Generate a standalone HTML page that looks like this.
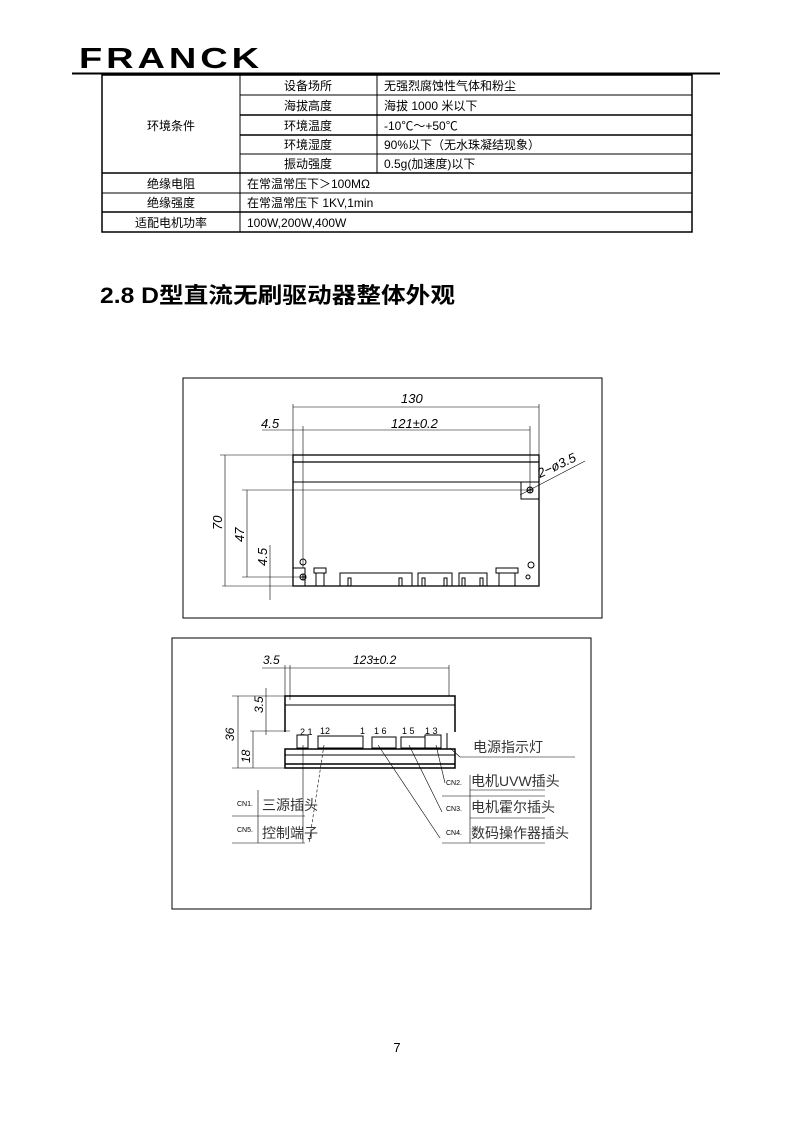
<!DOCTYPE html>
<html><head><meta charset="utf-8"><style>
html,body{margin:0;padding:0;background:#fff}
svg{display:block}
text{font-family:"Liberation Sans","Noto Sans CJK SC",sans-serif}
</style></head><body>
<svg width="794" height="1123" viewBox="0 0 794 1123" xmlns="http://www.w3.org/2000/svg">
<text x="79" y="68" font-family="Liberation Sans, sans-serif" font-weight="900" font-size="29" letter-spacing="3" textLength="184" lengthAdjust="spacingAndGlyphs" fill="#000">FRANCK</text>
<line x1="72" y1="73.5" x2="720" y2="73.5" stroke="#000" stroke-width="2"/>
<g stroke="#000" fill="none">
<rect x="102" y="75" width="590" height="157" stroke-width="1.5"/>
<line x1="240" y1="75" x2="240" y2="232"/>
<line x1="377" y1="75" x2="377" y2="173"/>
<line x1="240" y1="95" x2="692" y2="95"/>
<line x1="240" y1="115" x2="692" y2="115" stroke-width="1.5"/>
<line x1="240" y1="135" x2="692" y2="135" stroke-width="1.5"/>
<line x1="240" y1="154" x2="692" y2="154"/>
<line x1="102" y1="173" x2="692" y2="173" stroke-width="1.5"/>
<line x1="102" y1="193" x2="692" y2="193"/>
<line x1="102" y1="212" x2="692" y2="212" stroke-width="1.5"/>
</g>
<g font-size="12" fill="#000">
<text x="171" y="130" text-anchor="middle">环境条件</text>
<text x="308" y="90" text-anchor="middle">设备场所</text>
<text x="308" y="110" text-anchor="middle">海拔高度</text>
<text x="308" y="130" text-anchor="middle">环境温度</text>
<text x="308" y="149" text-anchor="middle">环境湿度</text>
<text x="308" y="168" text-anchor="middle">振动强度</text>
<text x="384" y="90">无强烈腐蚀性气体和粉尘</text>
<text x="384" y="110">海拔 1000 米以下</text>
<text x="384" y="130">-10℃～+50℃</text>
<text x="384" y="149">90%以下（无水珠凝结现象）</text>
<text x="384" y="168">0.5g(加速度)以下</text>
<text x="171" y="188" text-anchor="middle">绝缘电阻</text>
<text x="171" y="207" text-anchor="middle">绝缘强度</text>
<text x="171" y="227" text-anchor="middle">适配电机功率</text>
<text x="247" y="188">在常温常压下＞100MΩ</text>
<text x="247" y="207">在常温常压下 1KV,1min</text>
<text x="247" y="227">100W,200W,400W</text>
</g>
<text x="100" y="303" font-size="22" font-weight="bold" fill="#000" textLength="355" lengthAdjust="spacingAndGlyphs">2.8 D型直流无刷驱动器整体外观</text>

<rect x="183" y="378" width="419" height="240" fill="none" stroke="#000"/>
<g stroke="#000" fill="none" stroke-width="1">
<rect x="293" y="455" width="246" height="131" stroke-width="1.3"/>
<line x1="293" y1="462" x2="539" y2="462" stroke-width="1.3"/>
<line x1="293" y1="482" x2="539" y2="482"/>
<path d="M521 482 V499 H539"/>
<path d="M293 568 H305 V586"/>
<g stroke-width="0.6">
<line x1="293" y1="404" x2="293" y2="455"/><line x1="539" y1="404" x2="539" y2="455"/>
<line x1="293" y1="407" x2="539" y2="407"/>
<line x1="262" y1="430" x2="530" y2="430"/>
<line x1="303" y1="426" x2="303" y2="568"/><line x1="530" y1="426" x2="530" y2="490"/>
<line x1="220" y1="455" x2="293" y2="455"/><line x1="222" y1="586" x2="293" y2="586"/>
<line x1="225" y1="455" x2="225" y2="586"/>
<line x1="242" y1="490" x2="530" y2="490"/><line x1="242" y1="577" x2="300" y2="577"/>
<line x1="247" y1="490" x2="247" y2="577"/>
<line x1="270" y1="545" x2="270" y2="600"/>
<line x1="520" y1="495" x2="585" y2="461"/>
</g>
<circle cx="530" cy="490" r="3"/><line x1="527" y1="490" x2="533" y2="490"/><line x1="530" y1="487" x2="530" y2="493"/>
<circle cx="303" cy="577" r="3"/><line x1="300" y1="577" x2="306" y2="577"/><line x1="303" y1="574" x2="303" y2="580"/>
<circle cx="303" cy="562" r="3"/><circle cx="531" cy="565" r="3"/><circle cx="528" cy="577" r="2"/>
<rect x="314" y="568" width="12" height="5"/><line x1="316" y1="573" x2="316" y2="586"/><line x1="324" y1="573" x2="324" y2="586"/>
<rect x="340" y="573" width="72" height="13"/><rect x="348" y="578" width="3" height="8"/><rect x="399" y="578" width="3" height="8"/>
<rect x="418" y="573" width="34" height="13"/><rect x="422" y="578" width="3" height="8"/><rect x="444" y="578" width="3" height="8"/>
<rect x="459" y="573" width="28" height="13"/><rect x="462" y="578" width="3" height="8"/><rect x="480" y="578" width="3" height="8"/>
<rect x="496" y="568" width="22" height="5"/><line x1="499" y1="573" x2="499" y2="586"/><line x1="515" y1="573" x2="515" y2="586"/>
</g>
<g font-size="13" font-style="italic" fill="#000">
<text x="401" y="403">130</text>
<text x="261" y="428">4.5</text>
<text x="391" y="428">121±0.2</text>
<text x="540" y="478" transform="rotate(-25 540 478)">2−ø3.5</text>
<text transform="translate(222 530) rotate(-90)">70</text>
<text transform="translate(244 542) rotate(-90)">47</text>
<text transform="translate(267 566) rotate(-90)">4.5</text>
</g>

<rect x="172" y="638" width="419" height="271" fill="none" stroke="#000"/>
<g stroke="#000" fill="none">
<path d="M285 732 V696 H455 V732" stroke-width="1.5"/>
<line x1="285" y1="705" x2="455" y2="705"/>
<rect x="285" y="749" width="170" height="19" stroke-width="1.5"/>
<line x1="285" y1="755" x2="455" y2="755"/><line x1="285" y1="764" x2="455" y2="764" stroke-width="1.5"/>
<g stroke-width="0.6">
<line x1="285" y1="665" x2="285" y2="696"/><line x1="449" y1="665" x2="449" y2="696"/>
<line x1="262" y1="668" x2="449" y2="668"/>
<line x1="290" y1="665" x2="290" y2="700"/>
<line x1="232" y1="696" x2="285" y2="696"/><line x1="232" y1="768" x2="285" y2="768"/>
<line x1="238" y1="696" x2="238" y2="768"/>
<line x1="250" y1="731" x2="290" y2="731"/><line x1="253" y1="731" x2="253" y2="768"/>
<line x1="266" y1="688" x2="266" y2="735"/>
<line x1="303" y1="745" x2="303" y2="843"/>
<line x1="324" y1="745" x2="309" y2="843" stroke-dasharray="3 2"/>
<line x1="378" y1="745" x2="440" y2="838"/>
<line x1="409" y1="745" x2="442" y2="812"/>
<line x1="436" y1="745" x2="445" y2="783"/>
<line x1="450" y1="748" x2="460" y2="757"/>
<line x1="460" y1="757" x2="575" y2="757"/>
<line x1="470" y1="790" x2="545" y2="790"/>
<line x1="442" y1="796" x2="545" y2="796"/>
<line x1="470" y1="818" x2="545" y2="818"/>
<line x1="442" y1="843" x2="545" y2="843"/>
<line x1="232" y1="816" x2="305" y2="816"/>
<line x1="232" y1="843" x2="305" y2="843"/>
<line x1="258" y1="790" x2="258" y2="843"/>
<line x1="470" y1="775" x2="470" y2="843"/>
</g>
<rect x="297" y="735" width="11" height="13"/>
<rect x="318" y="736" width="45" height="12"/>
<rect x="372" y="737" width="24" height="11"/>
<rect x="401" y="737" width="24" height="11"/>
<rect x="425" y="735" width="16" height="13"/>
<line x1="447" y1="733" x2="447" y2="749"/>
</g>
<g font-size="9" fill="#000">
<text x="300" y="735">2 1</text><text x="320" y="734">12</text><text x="360" y="734">1</text>
<text x="374" y="734">1   6</text><text x="402" y="734">1   5</text><text x="425" y="734">1  3</text>
</g>
<g font-size="12" font-style="italic" fill="#000">
<text x="263" y="664">3.5</text><text x="353" y="664">123±0.2</text>
<text transform="translate(234 741) rotate(-90)">36</text>
<text transform="translate(250 763) rotate(-90)">18</text>
<text transform="translate(263 713) rotate(-90)">3.5</text>
</g>
<g font-size="14" fill="#333">
<text x="473" y="752">电源指示灯</text>
<text x="471" y="786">电机UVW插头</text>
<text x="471" y="812">电机霍尔插头</text>
<text x="471" y="838">数码操作器插头</text>
<text x="262" y="810">三源插头</text>
<text x="262" y="838">控制端子</text>
</g>
<g font-size="7" fill="#000">
<text x="446" y="785">CN2.</text><text x="446" y="811">CN3.</text><text x="446" y="835">CN4.</text>
<text x="237" y="806">CN1.</text><text x="237" y="832">CN5.</text>
</g>
<text x="397" y="1052" font-family="Liberation Serif, serif" font-size="13" text-anchor="middle">7</text>
</svg>
</body></html>
